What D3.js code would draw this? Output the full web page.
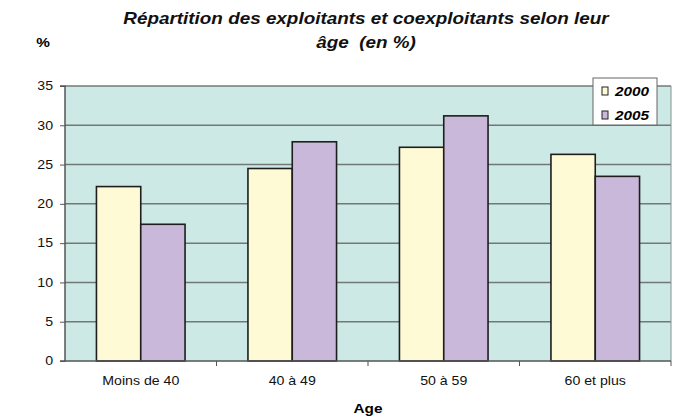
<!DOCTYPE html>
<html>
<head>
<meta charset="utf-8">
<style>
  body { margin:0; background:#fff; font-family:"Liberation Sans", Arial, sans-serif; }
  .Axis text { font-size:12px; fill:#111; }
  .Axis path, .Axis line { stroke:#555; }
  .title { font-size:16px; font-weight:bold; font-style:italic; fill:#111; white-space:pre; }
</style>
</head>
<body>
<script src="https://d3js.org/d3.v7.min.js"></script>
<script>
var categories = ["Moins de 40", "40 à 49", "50 à 59", "60 et plus"];
var years = ["2000", "2005"];
var values2000 = [22.2, 24.5, 27.2, 26.3];
var values2005 = [17.4, 27.9, 31.2, 23.5];
var yTicks = [0, 5, 10, 15, 20, 25, 30, 35];

var colors = {"2000": "#fffad6", "2005": "#c9b8da"};
var stretch = 1.18;  // the reference text is drawn a bit wide
var margin = {top: 86, left: 65, right: 3, bottom: 57};
var width = 674 - margin.left - margin.right,
    height = 418 - margin.top - margin.bottom;

var svg = d3.select("body").append("svg")
  .attr("width", 674).attr("height", 418);

function wideText(sel, x, y, txt) {
  return sel.append("text")
    .attr("transform", "translate(" + x + "," + y + ") scale(" + stretch + ",1)")
    .text(txt);
}

// title
wideText(svg, 366, 24, "Répartition des exploitants et coexploitants selon leur")
  .attr("class", "title").attr("text-anchor", "middle");
wideText(svg, 366, 48, "âge  (en %)")
  .attr("class", "title").attr("text-anchor", "middle");
wideText(svg, 43, 47, "%").attr("text-anchor", "middle")
  .style("font-size", "13px").style("font-weight", "bold");

var g = svg.append("g").attr("transform", "translate(" + margin.left + "," + margin.top + ")");

var x0 = d3.scaleBand().domain(categories).range([0, width]).paddingInner(0).paddingOuter(0);
var x1 = d3.scaleBand().domain(years).range([0, x0.bandwidth()]).paddingInner(0).paddingOuter(0.71);
var y = d3.scaleLinear().domain([0, 35]).range([height, 0]);

// plot background
g.append("rect").attr("width", width).attr("height", height).attr("fill", "#cce9e6");

// gridlines
g.selectAll(".grid").data(yTicks.slice(1)).enter().append("line")
  .attr("x1", 0).attr("x2", width)
  .attr("y1", function(d) { return y(d); }).attr("y2", function(d) { return y(d); })
  .attr("stroke", "#727878").attr("stroke-width", 1.5);
g.append("line").attr("x1", width).attr("x2", width).attr("y1", 0).attr("y2", height)
  .attr("stroke", "#8a9090").attr("stroke-width", 1);

// bars
var rows = categories.map(function(c, i) {
  return {cat: c, vals: [{year: "2000", v: values2000[i]}, {year: "2005", v: values2005[i]}]};
});
var groups = g.selectAll(".grp").data(rows).enter().append("g")
  .attr("transform", function(d) { return "translate(" + x0(d.cat) + ",0)"; });
groups.selectAll("rect").data(function(d) { return d.vals; }).enter().append("rect")
  .attr("x", function(d) { return x1(d.year); })
  .attr("y", function(d) { return y(d.v); })
  .attr("width", x1.bandwidth())
  .attr("height", function(d) { return height - y(d.v); })
  .attr("fill", function(d) { return colors[d.year]; })
  .attr("stroke", "#1e1e1e").attr("stroke-width", 1.6);

// axes
function widenTicks(s) {
  s.selectAll(".tick text").each(function() {
    var t = d3.select(this);
    t.attr("x", (+t.attr("x") || 0) / stretch).attr("transform", "scale(" + stretch + ",1)");
  });
}
var yAxis = d3.axisLeft(y).tickValues(yTicks).tickSize(5).tickPadding(7);
g.append("g").attr("class", "Axis").call(yAxis).call(widenTicks)
  .call(function(s) { s.select(".domain").attr("d", "M-5,0H0V" + height + "H-5").attr("stroke-width", 1.5); });

var xAxis = d3.axisBottom(x0).tickSize(0).tickPadding(15);
var xg = g.append("g").attr("class", "Axis").attr("transform", "translate(0," + height + ")").call(xAxis).call(widenTicks);
xg.select(".domain").attr("d", "M0,0H" + width).attr("stroke-width", 1.5);
xg.selectAll(".sep").data(categories).enter().append("line")
  .attr("x1", function(d) { return x0(d) + x0.bandwidth(); })
  .attr("x2", function(d) { return x0(d) + x0.bandwidth(); })
  .attr("y1", 0).attr("y2", 5).attr("stroke", "#555");

wideText(svg, 368, 413, "Age").attr("text-anchor", "middle")
  .style("font-size", "13px").style("font-weight", "bold");

// legend
var leg = svg.append("g").attr("transform", "translate(593,78)");
leg.append("rect").attr("width", 64).attr("height", 47).attr("fill", "#fff")
  .attr("stroke", "#666").attr("stroke-width", 1);
years.forEach(function(yr, i) {
  var ly = 14 + i * 24;
  leg.append("rect").attr("x", 9).attr("y", ly - 5).attr("width", 6).attr("height", 8)
    .attr("fill", colors[yr]).attr("stroke", "#222").attr("stroke-width", 1);
  wideText(leg, 22, ly + 4, yr)
    .style("font-size", "13px").style("font-weight", "bold").style("font-style", "italic");
});
</script>
</body>
</html>
